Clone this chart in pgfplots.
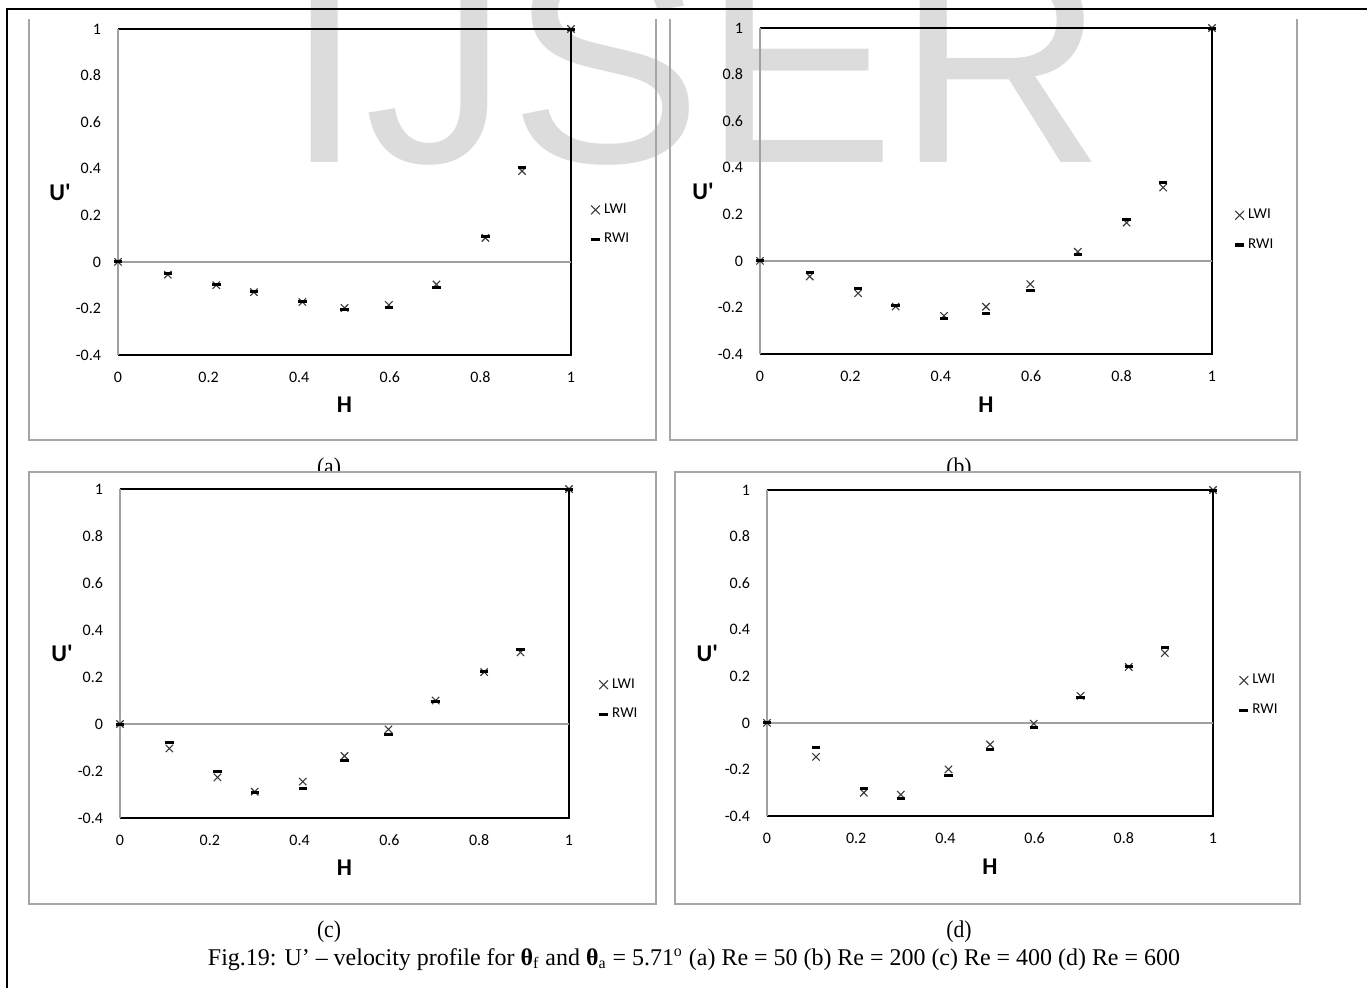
\documentclass[border=0pt]{standalone}
\usepackage{fontspec}
\setmainfont{Liberation Serif}
\newfontfamily\carlito{Carlito}
\newfontfamily\arialf{Liberation Sans}
\usepackage{graphicx}
\usepackage{pgfplots}
\pgfplotsset{compat=1.18}
\usepackage{pgfplotstable}

\definecolor{xcol}{HTML}{3A3A3A}
\definecolor{boxgray}{HTML}{A6A6A6}
\definecolor{axgray}{HTML}{A0A0A0}
\definecolor{wm}{HTML}{DCDCDC}

\pgfplotstableread{
H LWI RWI
0 0 0
0.11 -0.055 -0.05
0.217 -0.10 -0.097
0.30 -0.13 -0.128
0.407 -0.172 -0.17
0.50 -0.198 -0.205
0.598 -0.185 -0.195
0.703 -0.097 -0.112
0.811 0.103 0.11
0.892 0.39 0.405
1 1 1
}\dataA
\pgfplotstableread{
H LWI RWI
0 0 0
0.11 -0.067 -0.05
0.217 -0.139 -0.119
0.30 -0.196 -0.19
0.407 -0.236 -0.247
0.50 -0.197 -0.225
0.598 -0.10 -0.128
0.703 0.039 0.026
0.811 0.164 0.176
0.892 0.315 0.337
1 1 1
}\dataB
\pgfplotstableread{
H LWI RWI
0 0 0
0.11 -0.104 -0.078
0.217 -0.227 -0.203
0.30 -0.288 -0.29
0.407 -0.245 -0.274
0.50 -0.136 -0.157
0.598 -0.023 -0.044
0.703 0.10 0.095
0.811 0.221 0.225
0.892 0.305 0.318
1 1 1
}\dataC
\pgfplotstableread{
H LWI RWI
0 0 0
0.11 -0.146 -0.106
0.217 -0.30 -0.282
0.30 -0.308 -0.325
0.407 -0.20 -0.225
0.50 -0.093 -0.114
0.598 -0.003 -0.021
0.703 0.116 0.109
0.811 0.24 0.24
0.892 0.30 0.324
1 1 1
}\dataD

\pgfplotsset{
  panel/.style={
    scale only axis, anchor=south west,
    xmin=0, xmax=1, ymin=-0.4, ymax=1,
    xtick={0,0.2,0.4,0.6,0.8,1},
    ytick={-0.4,-0.2,0,0.2,0.4,0.6,0.8,1},
    major tick length=0pt,
    tick label style={font=\carlito\fontsize{8}{9}\selectfont},
    /pgf/number format/assume math mode=true,
    /pgf/number format/fixed,
    yticklabel style={xshift=-5pt},
    xticklabel style={yshift=-3pt, text height=1.6ex, text depth=0.2ex},
    axis line style={draw=none},
    clip=false,
    ylabel={U'},
    ylabel style={rotate=-90, font=\carlito\bfseries\fontsize{12}{14}\selectfont, anchor=center, inner sep=1pt},
    xlabel={H},
    xlabel style={font=\carlito\bfseries\fontsize{12}{14}\selectfont, anchor=center, inner sep=1pt},
    legend style={draw=none, fill=none, anchor=west, font=\carlito\fontsize{7.5}{9}\selectfont, row sep=4.5pt, inner sep=0pt},
    legend cell align=left,
    legend image code/.code={\draw[##1] plot coordinates {(0.19cm,0cm)};},
  },
  lwi/.style={only marks, mark=x, mark size=2.6pt, color=xcol, mark options={line width=0.55pt}},
  rwi/.style={only marks, mark=-, mark size=2.1pt, color=black, mark options={line width=1.5pt}},
}

\newcommand{\frameplot}{%
  \draw[black, line width=0.75pt] (axis cs:0,1) -- (axis cs:1,1) -- (axis cs:1,-0.4) -- (axis cs:0,-0.4);
  \draw[axgray, line width=0.75pt] (axis cs:0,-0.4) -- (axis cs:0,1);
  \draw[axgray, line width=0.75pt] (axis cs:0,0) -- (axis cs:1,0);
}
\newcommand{\legimgs}{%
  \addlegendimage{only marks, mark=x, mark size=3.1pt, color=xcol, mark options={line width=0.55pt}}
  \addlegendimage{only marks, mark=-, mark size=2.3pt, color=black, mark options={line width=1.6pt}}
}

\begin{document}
\begin{tikzpicture}
\useasboundingbox (0,0) rectangle (683.5pt,-493.5pt);
\clip (0,0) rectangle (683.5pt,-493.5pt);
\begin{scope}[x=0.5pt,y=-0.5pt]
  \fill[white] (0,0) rectangle (1367,987);
  \node[anchor=base west, inner sep=0pt, text=wm, font=\arialf\fontsize{144.8}{150}\selectfont] at (284,162) {IJSER};
  \draw[black, line width=1.1pt] (7,990) -- (7,9) -- (1370,9);
  \draw[boxgray, line width=0.75pt] (29,19) -- (29,440) -- (656,440) -- (656,19);
  \draw[boxgray, line width=0.75pt] (670,19) -- (670,440) -- (1297,440) -- (1297,19);
  \node[anchor=base, inner sep=0pt, font=\fontsize{12}{14}\selectfont] at (329,474) {\scalebox{0.9}[1]{(a)}};
  \node[anchor=base, inner sep=0pt, font=\fontsize{12}{14}\selectfont] at (959,474) {\scalebox{0.9}[1]{(b)}};
  \draw[boxgray, line width=0.75pt, fill=white] (29,472) rectangle (656,904);
  \draw[boxgray, line width=0.75pt, fill=white] (675,472) rectangle (1300,904);
  \node[anchor=base, inner sep=0pt, font=\fontsize{12}{14}\selectfont] at (329,937) {\scalebox{0.9}[1]{(c)}};
  \node[anchor=base, inner sep=0pt, font=\fontsize{12}{14}\selectfont] at (959,937) {\scalebox{0.9}[1]{(d)}};
  \node[anchor=base, inner sep=0pt, font=\fontsize{12}{14}\selectfont] at (694,965)
    {\resizebox{486pt}{\height}{Fig.19: U’ -- velocity profile for \textbf{θ}\textsubscript{f} and \textbf{θ}\textsubscript{a} = 5.71\textsuperscript{o} (a) Re = 50 (b) Re = 200 (c) Re = 400 (d) Re = 600}};
\end{scope}

% (a)
\begin{axis}[panel, at={(59pt,-177.5pt)}, width=226.5pt, height=163pt,
  ylabel style={at={(axis description cs:-0.128,0.5)}},
  xlabel style={at={(axis description cs:0.5,-0.153)}},
  legend style={at={(1.043,0.40)}}]
  \legimgs
  \frameplot
  \addplot[lwi] table[x=H,y=LWI] {\dataA};
  \addplot[rwi] table[x=H,y=RWI] {\dataA};
  \legend{LWI,RWI}
\end{axis}

% (b)
\begin{axis}[panel, at={(380pt,-177pt)}, width=226pt, height=163pt,
  ylabel style={at={(axis description cs:-0.126,0.5)}},
  xlabel style={at={(axis description cs:0.5,-0.156)}},
  legend style={at={(1.050,0.38)}}]
  \legimgs
  \frameplot
  \addplot[lwi] table[x=H,y=LWI] {\dataB};
  \addplot[rwi] table[x=H,y=RWI] {\dataB};
  \legend{LWI,RWI}
\end{axis}

% (c)
\begin{axis}[panel, at={(60pt,-409pt)}, width=224.5pt, height=164.5pt,
  ylabel style={at={(axis description cs:-0.129,0.5)}},
  xlabel style={at={(axis description cs:0.5,-0.152)}},
  legend style={at={(1.066,0.36)}}]
  \legimgs
  \frameplot
  \addplot[lwi] table[x=H,y=LWI] {\dataC};
  \addplot[rwi] table[x=H,y=RWI] {\dataC};
  \legend{LWI,RWI}
\end{axis}

% (d)
\begin{axis}[panel, at={(383.5pt,-408pt)}, width=223pt, height=163pt,
  ylabel style={at={(axis description cs:-0.134,0.5)}},
  xlabel style={at={(axis description cs:0.5,-0.156)}},
  legend style={at={(1.058,0.37)}}]
  \legimgs
  \frameplot
  \addplot[lwi] table[x=H,y=LWI] {\dataD};
  \addplot[rwi] table[x=H,y=RWI] {\dataD};
  \legend{LWI,RWI}
\end{axis}
\end{tikzpicture}
\end{document}
